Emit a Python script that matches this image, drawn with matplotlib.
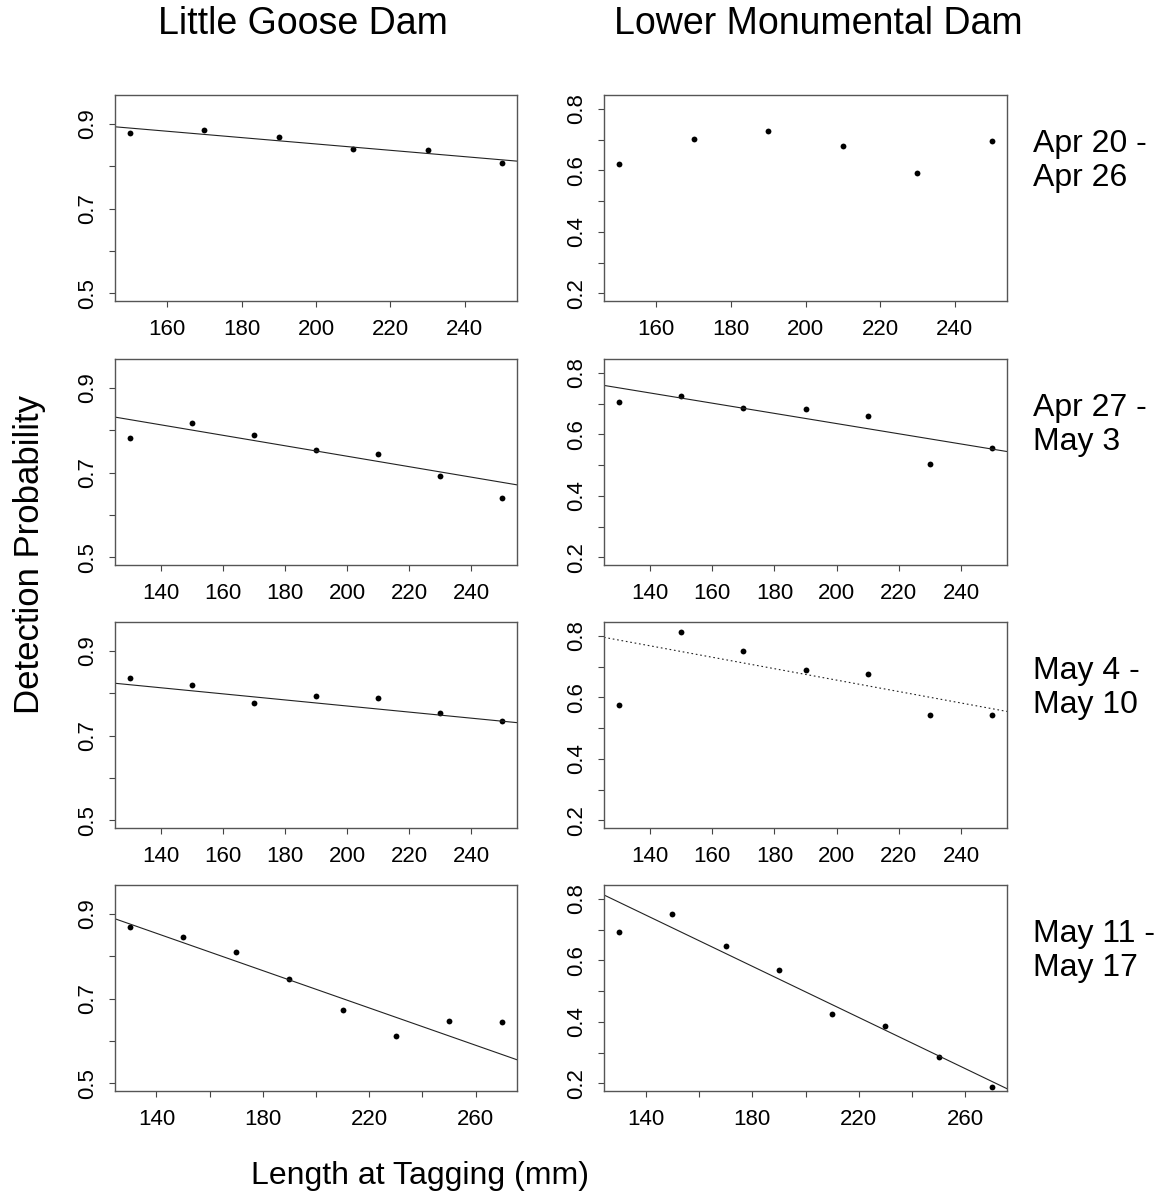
import numpy as np
import matplotlib
matplotlib.use("Agg")
import matplotlib.pyplot as plt

plt.rcParams['font.family'] = ['Liberation Sans', 'DejaVu Sans']

# tagging length classes (mm) for each release week
weeks = ["Apr 20 -\nApr 26", "Apr 27 -\nMay 3", "May 4 -\nMay 10", "May 11 -\nMay 17"]
lengths = [
    [150, 170, 190, 210, 230, 250],
    [130, 150, 170, 190, 210, 230, 250],
    [130, 150, 170, 190, 210, 230, 250],
    [130, 150, 170, 190, 210, 230, 250, 270],
]

# detection probability at Little Goose Dam
lgo_p = [
    [0.879, 0.886, 0.868, 0.841, 0.838, 0.807],
    [0.781, 0.816, 0.788, 0.754, 0.745, 0.693, 0.640],
    [0.836, 0.820, 0.778, 0.794, 0.789, 0.753, 0.734],
    [0.869, 0.846, 0.809, 0.746, 0.674, 0.612, 0.647, 0.644],
]
# detection probability at Lower Monumental Dam
lmn_p = [
    [0.622, 0.703, 0.727, 0.680, 0.591, 0.695],
    [0.705, 0.725, 0.686, 0.683, 0.658, 0.504, 0.556],
    [0.576, 0.813, 0.751, 0.690, 0.675, 0.541, 0.541],
    [0.692, 0.751, 0.647, 0.567, 0.425, 0.388, 0.286, 0.187],
]

# fitted values at the smallest and largest length (None = no fit)
lgo_fit = [(0.890, 0.815), (0.825, 0.677), (0.820, 0.734), (0.876, 0.568)]
lmn_fit = [None, (0.751, 0.552), (0.786, 0.563), (0.789, 0.206)]
lmn_fit_style = [None, 'solid', (0, (1.5, 2.5)), 'solid']

W, H = 1167, 1199
col_x = [115, 604]
col_w = [402, 403]
row_top = [95, 359, 622, 885]
panel_h = 206

fig = plt.figure(figsize=(W / 100, H / 100), dpi=100)


def rlim(lo, hi):
    # R-style 4% padding on each side
    r = hi - lo
    return lo - 0.04 * r, hi + 0.04 * r


def panel(ax, x, y, fit, style, ylim, yticks, ylabels, xticks, xlabels):
    ax.plot(x, y, 'o', color='black', markersize=4.2, markeredgewidth=0)
    if fit is not None:
        ax.axline((x[0], fit[0]), (x[-1], fit[1]), color='#222222',
                  lw=0.8, linestyle=style)
    ax.set_xlim(*rlim(x[0], x[-1]))
    ax.set_ylim(*rlim(*ylim))
    ax.set_yticks(yticks)
    ax.set_yticklabels(ylabels, rotation=90, va='center')
    ax.set_xticks(xticks)
    ax.set_xticklabels(xlabels)
    ax.tick_params(direction='out', length=4, width=0.8, colors='#444444',
                   labelcolor='black', labelsize=16)
    ax.tick_params(axis='y', pad=8)
    ax.tick_params(axis='x', pad=9)
    for s in ax.spines.values():
        s.set_color('#555555')
        s.set_linewidth(1.0)


for i in range(4):
    x = lengths[i]
    xt = list(range(140, 280, 20))
    xt = [t for t in xt if rlim(x[0], x[-1])[0] <= t <= rlim(x[0], x[-1])[1]]
    if i == 3:
        xl = [str(t) if t in (140, 180, 220, 260) else '' for t in xt]
    else:
        xl = [str(t) for t in xt]
    for j in range(2):
        rect = [col_x[j] / W, 1 - (row_top[i] + panel_h) / H, col_w[j] / W, panel_h / H]
        ax = fig.add_axes(rect)
        if j == 0:
            yt = [0.5, 0.6, 0.7, 0.8, 0.9]
            yl = ['0.5', '', '0.7', '', '0.9']
            panel(ax, x, lgo_p[i], lgo_fit[i], 'solid', (0.5, 0.95), yt, yl, xt, xl)
        else:
            yt = [0.2, 0.3, 0.4, 0.5, 0.6, 0.7, 0.8]
            yl = ['0.2', '', '0.4', '', '0.6', '', '0.8']
            panel(ax, x, lmn_p[i], lmn_fit[i], lmn_fit_style[i], (0.2, 0.82), yt, yl, xt, xl)
    fig.text(1033 / W, 1 - (row_top[i] + 66) / H, weeks[i], fontsize=23,
             ha='left', va='center', linespacing=1.15)

fig.text(303 / W, 1 - 24 / H, "Little Goose Dam", fontsize=27, ha='center', va='center')
fig.text(818 / W, 1 - 24 / H, "Lower Monumental Dam", fontsize=27, ha='center', va='center')
fig.text(30 / W, 1 - 555 / H, "Detection Probability", fontsize=25, rotation=90,
         ha='center', va='center')
fig.text(420 / W, 1 - 1176 / H, "Length at Tagging (mm)", fontsize=23, ha='center', va='center')

fig.savefig("out.png", dpi=100)
